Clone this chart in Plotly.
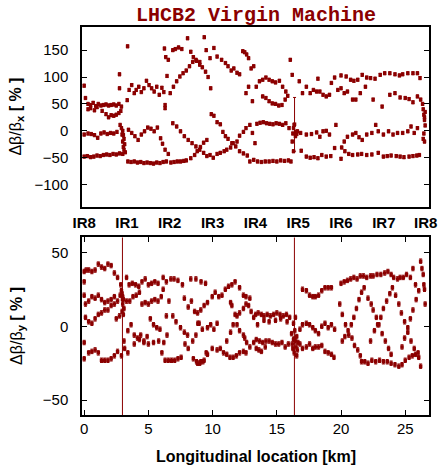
import plotly.graph_objects as go
from plotly.subplots import make_subplots

# ---------------- DATA: top panel (horizontal beta-beating, %) ----------------
# bottom band
tx_low = [0.0,0.25,0.5,0.75,1.0,1.25,1.5,1.75,2.0,2.25,2.5,2.75,
          3.4,3.65,3.9,4.15,4.4,4.65,4.9,5.15,5.4,5.65,5.9,6.15,6.4,
          6.75,7.0,7.25,7.5,7.75,
          12.9,13.2,13.5,13.8,14.1,14.4,14.7,15.0,15.3,15.6,15.9,16.1,
          16.9,17.3,17.6,17.9,18.2,18.5,18.85,19.2,19.5,20.0,20.3,20.6,20.9,21.3,21.6,22.0,22.4,22.9,
          23.3,23.6,23.9,24.3,24.6,24.9,25.3,25.6,25.9,26.1]
ty_low = [-48,-47,-49,-48,-46,-47,-45,-44,-45,-43,-44,-42,
          -57,-58,-57,-59,-58,-60,-59,-60,-61,-59,-60,-58,-57,
          -59,-58,-57,-57,-56,
          -57,-54,-57,-58,-57,-57,-56,-57,-55,-56,-55,-57,
          -37,-48,-50,-49,-51,-45,-48,-47,-32,-52,-38,-43,-45,-44,-43,-45,-44,-41,
          -48,-47,-46,-47,-48,-49,-48,-47,-46,-45]
# middle strands (around 0 and the crossing diagonals)
tx_mid = [0.0,0.3,0.55,0.8,1.05,1.3,1.55,1.8,2.05,2.3,2.55,
          3.45,3.7,3.95,4.2,4.45,4.7,4.95,5.2,5.45,5.7,5.95,6.1,6.3,6.55,
          6.9,7.2,7.5,7.8,8.1,8.4,8.7,9.0,9.3,9.55,9.8,10.05,
          10.35,10.6,10.9,11.1,11.4,11.6,11.9,12.1,12.4,12.6,12.9,
          7.95,8.3,8.6,8.8,9.05,9.3,9.55,
          9.9,10.1,10.35,10.6,10.8,11.0,11.2,11.5,11.8,12.1,12.4,12.7,
          13.1,13.3,13.45,13.7,13.95,14.2,14.45,14.7,14.95,15.2,15.45,15.7,15.95,
          16.6,16.85,17.3,17.7,18.1,18.35,18.6,18.85,19.1,19.6,
          20.05,20.25,20.5,20.9,21.15,21.4,21.65,22.0,22.4,22.7,22.9,23.3,23.7,24.05,24.4,24.8,25.2,25.45,25.7,25.95]
ty_mid = [-7,-5,-6,-8,-13,-5,-3,-6,-4,-5,-2,
          2,-4,-10,-17,-7,-1,6,4,-1,6,-14,-24,-35,-43,
          14,8,-1,-10,-17,-23,-29,-35,-41,-47,-45,-50,
          -43,-41,-38,-35,-31,-23,-20,-9,-2,5,11,
          -55,-51,-45,-38,-30,-22,-17,
          31,28,16,12,-2,-10,-15,-23,-29,-38,-42,-46,
          -4,-23,13,15,16,14,13,12,14,13,11,14,5,
          -1,-4,-7,-6,-3,-11,-1,0,-7,11,
          -31,-20,-11,-7,-4,-12,-17,-7,-4,11,-1,-7,-1,-7,-4,-4,-1,8,-4,5]
# IR1 / IR5 / IR8 clusters
tx_clu = [2.8,2.9,3.0,3.05,3.1,3.0,3.15,3.05,3.1,3.2,3.0,2.95,
          16.2,16.25,16.3,16.35,16.45,16.3,16.5,16.55,
          26.35,26.4,26.45,26.5,26.5,26.55,26.45,26.4,26.5,26.55]
ty_clu = [11,5,0,-8,-15,-20,-25,-30,-35,-40,-43,-7,
          -20,-5,5,11,-10,-38,-2,-6,
          50,40,30,25,20,10,-5,-15,-20,35]
# upper band (+25 ... +175)
tx_up = [0.0,0.1,0.3,0.5,0.7,0.9,1.1,1.3,1.5,1.7,1.9,2.1,2.3,2.5,2.7,2.9,
         0.3,0.5,0.8,1.0,1.4,1.7,1.9,2.1,2.3,2.5,2.7,2.85,
         2.75,2.75,3.38,
         3.35,3.5,3.7,3.9,4.05,4.25,4.45,4.65,4.85,5.05,5.25,5.45,5.65,5.85,6.05,6.2,
         6.3,6.3,
         6.25,6.35,6.55,6.9,7.1,7.35,7.6,8.05,8.3,8.5,8.75,9.0,9.35,9.5,9.8,10.1,10.35,10.7,
         11.0,11.2,11.45,11.65,11.9,12.1,12.35,12.5,12.65,12.8,13.0,13.2,
         6.45,6.7,6.95,7.2,7.45,7.7,7.95,8.2,8.45,8.7,9.0,9.2,9.45,9.65,9.85,
         12.6,12.8,13.1,13.4,13.65,13.9,14.15,14.4,14.65,14.9,15.2,15.45,15.7,16.05,16.2,
         13.9,14.15,14.4,14.65,14.9,15.15,15.4,15.65,15.85,
         16.75,17.0,17.3,17.6,17.85,18.1,18.35,18.6,18.85,19.1,19.25,18.2,
         19.5,20.0,20.4,20.75,21.0,21.3,21.65,22.0,22.3,22.65,23.05,23.4,23.8,24.2,24.55,
         24.8,25.2,25.6,25.95,26.15,
         19.75,20.0,20.25,20.5,20.9,21.15,21.5,21.9,22.5,23.2,23.8,24.2,24.6,25.0,25.3,25.6,25.95,26.2]
ty_up = [84,61,50,48,52,46,50,47,48,49,47,48,49,47,50,45,
         40,42,38,44,37,31,25,29,28,30,33,37,
         105,79,157,
         57,76,85,70,76,82,72,79,93,85,79,73,82,67,80,72,
         42,48,
         153,137,132,150,152,155,152,172,147,137,130,123,174,150,135,154,138,132,
         126,120,112,116,108,105,148,146,142,135,116,120,
         102,70,82,92,101,107,112,120,128,132,128,118,110,100,79,
         70,82,55,82,92,95,99,95,92,90,93,82,73,132,104,
         64,61,55,51,50,47,48,58,65,
         92,70,82,70,76,73,73,67,64,67,89,97,
         99,103,101,95,93,95,104,99,98,97,104,107,107,105,103,
         105,107,107,107,98,
         76,79,70,73,58,58,70,82,58,45,67,70,62,61,59,53,64,58]
# measurements with large error bars
tx_big = [16.38]
ty_big = [12]
te_big = [50]
ERR_TOP = 3.0

# ---------------- DATA: bottom panel (vertical beta-beating, %) ----------------
bx_a = [0.0,0.0,0.15,0.35,0.6,0.85,1.1,1.35,1.6,1.85,2.1,2.35,2.6,
        0.0,0.1,0.35,0.6,0.85,1.1,1.35,1.6,1.85,2.1,2.35,2.6,2.8,
        0.1,0.35,0.6,0.85,1.1,1.35,1.6,1.85,2.1,2.35,2.5,2.75,
        0.0,0.0,0.35,0.6,0.85,1.1,1.35,1.6,1.85,2.1,2.35,2.6,
        2.85,2.9,2.95,3.0,3.05,3.0,3.1,2.95,3.05,3.1,3.15,2.9]
by_a = [37,30,38,38,37,38,42,40,39,42,41,36,33,
        21,15,17,20,19,21,18,16,17,18,20,17,21,
        6,3,2,5,8,9,11,11,14,15,5,7,
        -11,-22,-18,-17,-16,-18,-23,-23,-23,-22,-20,-17,
        28,24,22,20,18,15,12,10,8,-10,-15,-20]
bx_b = [3.3,3.5,3.75,4.0,4.25,4.5,4.75,5.0,5.25,5.5,5.75,6.15,6.4,6.75,7.0,7.3,7.65,8.3,8.7,9.1,9.45,
        3.3,3.55,3.8,4.05,4.3,4.5,4.75,5.0,5.25,5.5,5.75,6.0,6.15,6.4,6.6,6.9,7.15,7.5,7.8,8.05,8.45,8.7,8.95,
        3.4,3.65,3.9,4.15,4.4,4.65,4.9,5.15,5.4,5.65,5.9,6.2,6.45,
        3.4,3.9,4.3,4.65,5.0,5.4,5.8,6.05,6.3,6.55,6.8,7.05,7.3,7.55,7.85,8.1,8.5,8.75,9.0,9.25,9.5,
        7.8,8.1,8.35,8.6,8.85]
by_b = [33,28,29,28,27,30,32,28,29,30,29,33,30,32,32,31,28,32,32,30,29,
        17,17,20,21,23,15,16,15,17,18,17,20,25,7,17,7,3,-1,-4,-6,-10,-6,2,
        -3,1,-6,-8,-6,-10,-7,5,1,-1,-2,-11,-6,
        -18,-12,-9,-11,-12,-11,-10,-18,-23,-23,-23,-23,-22,-21,-12,-15,-22,-24,-25,-24,-18,
        19,13,17,10,2]
bx_c = [8.83,9.08,9.34,9.6,9.97,10.2,10.48,10.73,10.99,11.24,11.5,11.75,12.1,12.4,12.6,12.8,13.0,
        8.83,9.08,9.34,9.6,9.97,10.35,10.6,10.85,11.1,11.35,11.6,11.85,12.1,12.4,12.6,12.9,
        9.2,9.6,9.85,10.1,10.35,
        11.4,11.5,11.75,11.9,12.1,12.4,12.5,12.65,
        11.1,11.4,11.6,11.9,12.1,12.4,12.6,12.9]
by_c = [9,11,14,16,20,23,20,21,25,27,28,30,26,21,20,14,10,
        -25,-24,-23,-19,-15,-16,-15,-18,-19,-21,-21,-20,-18,-17,-18,-14,
        -2,-1,1,-2,2,
        16,14,8,1,-3,-6,-8,-11,
        -10,-4,1,7,9,12,15,19]
bx_d = [13.2,13.35,13.55,13.8,14.0,14.25,14.5,14.75,15.0,15.25,15.5,15.75,16.0,
        13.5,14.0,14.4,14.9,15.3,15.8,
        13.2,13.4,13.65,13.9,14.15,14.4,14.65,14.9,15.15,15.4,15.65,15.9,
        13.4,13.6,13.8,14.1,
        16.15,16.2,16.25,16.3,16.35,16.4,16.45,16.5,16.55,16.6,16.65,16.3,16.45,16.55,
        16.8,17.0,16.8]
by_d = [6,8,9,8,7,8,7,8,9,8,7,8,6,
        1,4,3,4,5,3,
        -11,-9,-10,-11,-10,-10,-11,-12,-12,-11,-14,-12,
        -15,-16,-17,-14,
        -5,-12,-15,-9,-18,-3,-10,-14,-7,-16,-11,2,6,-20,
        -12,-15,-2]
bx_e = [17.0,17.3,17.55,17.8,18.0,18.25,18.5,18.75,19.0,19.25,
        17.0,17.3,17.55,17.8,18.0,18.25,18.5,18.75,19.0,19.25,19.5,
        17.3,17.55,17.8,18.0,18.25,18.5,18.75,19.0,19.25,19.45,
        20.0,20.25,20.5,20.75,21.0,21.25,21.5,21.75,22.0,22.3,22.5,22.8,23.1,23.4,23.65,23.9,
        24.1,24.4,24.6,24.85,25.1,25.4,25.6,25.8,26.2,26.3,26.4,26.45,26.5,26.55,
        19.9,20.1,20.35,20.6,20.85,21.05,21.3,21.5,
        20.1,20.3,20.55,20.8,21.0,21.2,21.4,21.6,21.8,
        22.1,22.35,22.5,22.75,22.95,23.2,23.45,23.7,23.9,
        22.3,22.6,22.85,23.1,23.3,23.55,23.8,24.0,
        24.25,24.5,24.7,24.95,25.2,25.45,25.7,26.0,
        24.75,24.95,25.2,25.4,25.6,25.85,26.05,
        21.6,21.85,22.1,22.4,22.7,23.0,23.3,23.6,23.9,24.2,24.5,24.75,25.0,25.3,25.55,25.8,26.05,26.2]
by_e = [25,24,21,20,20,21,24,26,26,26,
        1,2,1,-1,-3,-5,0,2,-1,1,-2,
        -14,-12,-15,-14,-14,-13,-17,-18,-19,-21,
        29,30,31,32,33,32,34,34,33,34,34,35,35,36,37,35,
        33,32,33,33,35,33,39,28,44,39,35,28,25,15,
        15,8,1,-6,-8,-13,-16,-20,
        -10,-7,-3,1,6,12,18,23,26,
        19,15,11,6,1,-5,-10,-15,-19,
        -10,-3,1,6,12,17,22,26,
        21,15,9,3,-4,-10,-15,-18,
        -14,-8,-1,5,11,18,24,
        -24,-24,-25,-23,-24,-23,-24,-24,-25,-26,-27,-26,-23,-21,-20,-19,-21,-27]
# two measurements with huge error bars (full-height lines)
bx_big = [2.98, 16.37]
by_big = [18, -8]
be_big = [200, 200]
ERR_BOT = 1.5

ir_labels = ["IR8", "IR1", "IR2", "IR3", "IR4", "IR5", "IR6", "IR7", "IR8"]
ir_pos = [0.0, 3.333, 6.666, 10.0, 13.333, 16.666, 20.0, 23.333, 26.6]
km_ticks = [0, 5, 10, 15, 20, 25]
top_yticks = [-100, -50, 0, 50, 100, 150]
bot_yticks = [-50, 0, 50]

# ---------------- FIGURE ----------------
RED = "#8b0000"
fig = make_subplots(rows=2, cols=1, vertical_spacing=0.0)


def add_points(xs, ys, err, row):
    fig.add_trace(go.Scatter(
        x=xs, y=ys, mode="markers",
        marker=dict(symbol="square", size=3.5, color=RED, line=dict(width=0)),
        error_y=dict(type="data", array=err, visible=True, color=RED,
                     thickness=1, width=1.5),
        showlegend=False, hoverinfo="skip"), row=row, col=1)


top_x = tx_low + tx_mid + tx_clu + tx_up
top_y = ty_low + ty_mid + ty_clu + ty_up
add_points(top_x, top_y, [ERR_TOP] * len(top_x), 1)
add_points(tx_big, ty_big, te_big, 1)

bot_x = bx_a + bx_b + bx_c + bx_d + bx_e
bot_y = by_a + by_b + by_c + by_d + by_e
add_points(bot_x, bot_y, [ERR_BOT] * len(bot_x), 2)
add_points(bx_big, by_big, be_big, 2)

FONT = "Liberation Sans, Arial, sans-serif"
axis_common = dict(showline=True, linecolor="black", linewidth=1.5,
                   showgrid=False, zeroline=False, mirror=True)

fig.update_xaxes(range=[-0.17, 26.85], tickmode="array", tickvals=ir_pos, ticktext=ir_labels,
                 ticks="", tickfont=dict(family=FONT, size=15, color="black", weight="bold"),
                 ticklabelstandoff=2, **axis_common, row=1, col=1)
fig.update_xaxes(range=[-0.17, 26.85], tickmode="array", tickvals=km_ticks,
                 ticks="inside", ticklen=5, tickwidth=1, tickcolor="black",
                 tickfont=dict(family=FONT, size=15, color="black"),
                 ticklabelstandoff=-1, **{**axis_common, "mirror": "ticks"}, row=2, col=1)
fig.update_yaxes(range=[-141, 193], tickmode="array", tickvals=top_yticks,
                 ticks="inside", ticklen=5, tickwidth=1, tickcolor="black",
                 tickfont=dict(family=FONT, size=15, color="black"),
                 ticklabelstandoff=9, domain=[0.537, 1.0],
                 **{**axis_common, "mirror": "ticks"}, row=1, col=1)
fig.update_yaxes(range=[-60, 60], tickmode="array", tickvals=bot_yticks,
                 ticks="inside", ticklen=5, tickwidth=1, tickcolor="black",
                 tickfont=dict(family=FONT, size=15, color="black"),
                 ticklabelstandoff=9, domain=[0.0, 0.4575],
                 **{**axis_common, "mirror": "ticks"}, row=2, col=1)

annotations = [
    dict(text="<b>LHCB2 Virgin Machine</b>", x=0.5, y=1.03, xref="paper", yref="paper",
         xanchor="center", yanchor="middle", showarrow=False,
         font=dict(family="Liberation Mono, Courier New, monospace", size=20, color=RED)),
    dict(text="Δβ/β<sub><b>x</b></sub> <b>[ % ]</b>", x=-0.188, y=0.7685, xref="paper", yref="paper",
         xanchor="center", yanchor="middle", textangle=-90, showarrow=False,
         font=dict(family=FONT, size=16, color="black")),
    dict(text="Δβ/β<sub><b>y</b></sub> <b>[ % ]</b>", x=-0.188, y=0.229, xref="paper", yref="paper",
         xanchor="center", yanchor="middle", textangle=-90, showarrow=False,
         font=dict(family=FONT, size=16, color="black")),
    dict(text="<b>Longitudinal location [km]</b>", x=0.5, y=-0.106, xref="paper", yref="paper",
         xanchor="center", yanchor="middle", showarrow=False,
         font=dict(family=FONT, size=16, color="black")),
]

fig.update_layout(width=446, height=465, margin=dict(l=82, r=9, t=27, b=50),
                  paper_bgcolor="white", plot_bgcolor="white",
                  annotations=annotations)

fig.write_html("out.html")
